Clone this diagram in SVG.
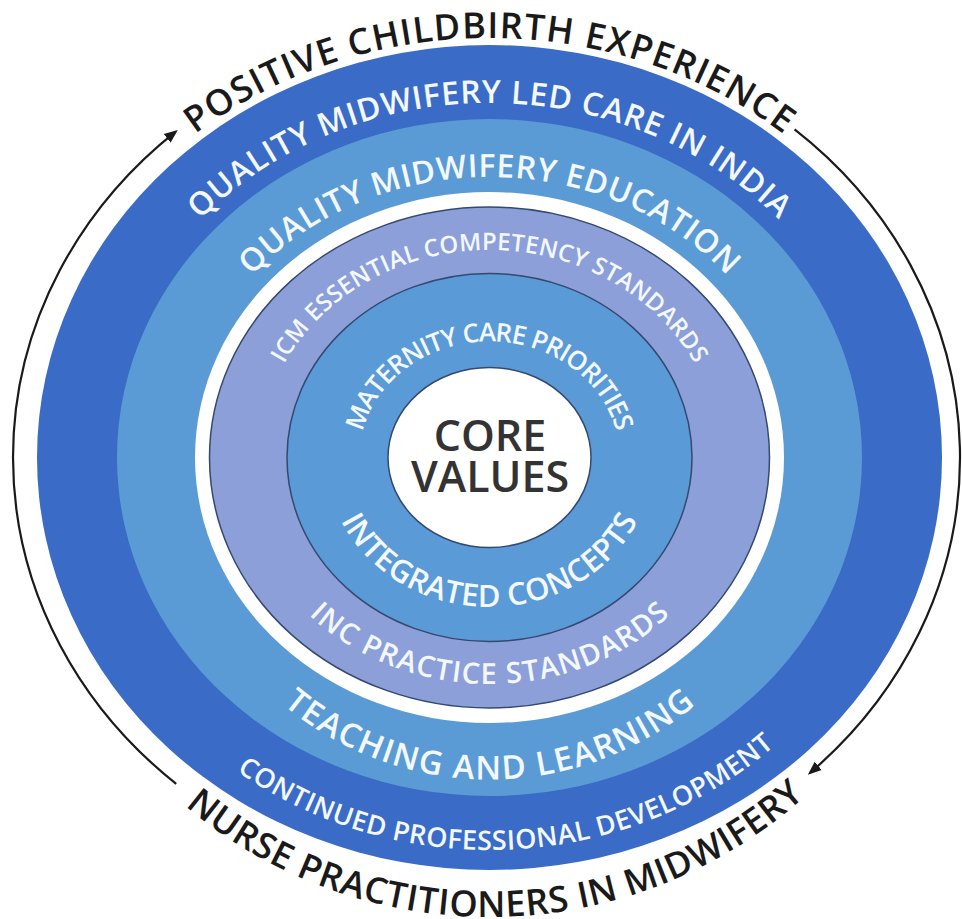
<svg xmlns="http://www.w3.org/2000/svg" width="962" height="919" viewBox="0 0 962 919">
<style>
.t{font-family:"Open Sans","Liberation Sans",sans-serif;font-weight:600;text-anchor:middle}
.w{fill:#f2f8fe}
.k{fill:#1a1a1a}
.ln{fill:none;stroke:#1a1a1a;stroke-width:2.2}
.ol{stroke:#34496e;stroke-width:1.5}
</style>
<defs>
<marker id="ah" viewBox="0 0 10 10" refX="8" refY="5" markerWidth="6.2" markerHeight="6.2" orient="auto" markerUnits="strokeWidth">
<path d="M0,1 L10,5 L0,9 z" fill="#1a1a1a"/>
</marker>
<path id="p1" d="M27.5,457.5 A462,419.5 0 0 1 951.5,457.5"/>
<path id="p2" d="M99.5,457.5 A390,354.5 0 0 1 879.5,457.5"/>
<path id="p3" d="M177.5,457.5 A312,280.5 0 0 1 801.5,457.5"/>
<path id="p4" d="M259.5,457.5 A230,207.5 0 0 1 719.5,457.5"/>
<path id="p5" d="M359.5,457.5 A130,116 0 0 1 619.5,457.5"/>
<path id="p6" d="M325.5,457.5 A164,149.5 0 0 0 653.5,457.5"/>
<path id="p7" d="M238,457.5 A251.5,226.5 0 0 0 741,457.5"/>
<path id="p8" d="M167.5,457.5 A322,322 0 0 0 811.5,457.5"/>
<path id="p9" d="M69.5,457.5 A420,392.5 0 0 0 909.5,457.5"/>
<path id="p10" d="M22.5,457.5 A467,459.5 0 0 0 956.5,457.5"/>
</defs>
<rect width="962" height="919" fill="#ffffff"/>

<g id="ring-outer">
<ellipse cx="489.5" cy="457.5" rx="452.5" ry="412.5" fill="#3a6bc6"/>
<text class="t w" font-size="32"><textPath href="#p2" startOffset="50%" textLength="640" lengthAdjust="spacing">QUALITY MIDWIFERY LED CARE IN INDIA</textPath></text>
<text class="t w" font-size="27"><textPath href="#p9" startOffset="51.6%" textLength="579" lengthAdjust="spacing">CONTINUED PROFESSIONAL DEVELOPMENT</textPath></text>
</g>

<g id="ring-education">
<ellipse cx="489.5" cy="457.5" rx="372.5" ry="338.5" fill="#5b9bd5"/>
<ellipse cx="489.5" cy="457.5" rx="294.5" ry="265.5" fill="#ffffff"/>
<text class="t w" font-size="32"><textPath href="#p3" startOffset="50%" textLength="529" lengthAdjust="spacing">QUALITY MIDWIFERY EDUCATION</textPath></text>
<text class="t w" font-size="33"><textPath href="#p8" startOffset="50%" textLength="448" lengthAdjust="spacing">TEACHING AND LEARNING</textPath></text>
</g>

<g id="ring-standards">
<ellipse class="ol" cx="489.5" cy="457.5" rx="280" ry="250.5" fill="#8c9fd9"/>
<text class="t w" font-size="24"><textPath href="#p4" startOffset="50%" textLength="492" lengthAdjust="spacing">ICM ESSENTIAL COMPETENCY STANDARDS</textPath></text>
<text class="t w" font-size="29"><textPath href="#p7" startOffset="50%" textLength="396" lengthAdjust="spacing">INC PRACTICE STANDARDS</textPath></text>
</g>

<g id="ring-concepts">
<ellipse class="ol" cx="489.5" cy="457.5" rx="202.5" ry="184" fill="#5a9ad7"/>
<text class="t w" font-size="26"><textPath href="#p5" startOffset="50%" textLength="335" lengthAdjust="spacing">MATERNITY CARE PRIORITIES</textPath></text>
<text class="t w" font-size="31"><textPath href="#p6" startOffset="50%" textLength="361" lengthAdjust="spacing">INTEGRATED CONCEPTS</textPath></text>
</g>

<g id="core">
<ellipse class="ol" cx="489.5" cy="457.5" rx="101.5" ry="90" fill="#ffffff"/>
<text class="t" x="490" y="451" font-size="43" font-weight="700" fill="#333333">CORE</text>
<text class="t" x="490" y="492" font-size="43" font-weight="700" fill="#333333">VALUES</text>
</g>

<g id="outer-labels">
<text class="t k" font-size="36"><textPath href="#p1" startOffset="50%" textLength="630" lengthAdjust="spacing">POSITIVE CHILDBIRTH EXPERIENCE</textPath></text>
<text class="t k" font-size="36"><textPath href="#p10" startOffset="50.5%" textLength="676" lengthAdjust="spacing">NURSE PRACTITIONERS IN MIDWIFERY</textPath></text>
</g>

<g id="connectors">
<path class="ln" d="M176.2,783.8 A473.5,432 0 0 1 175.7,131.6" marker-end="url(#ah)"/>
<path class="ln" d="M794.6,129.4 A473.5,432 0 0 1 809.9,773" marker-end="url(#ah)"/>
</g>
</svg>
